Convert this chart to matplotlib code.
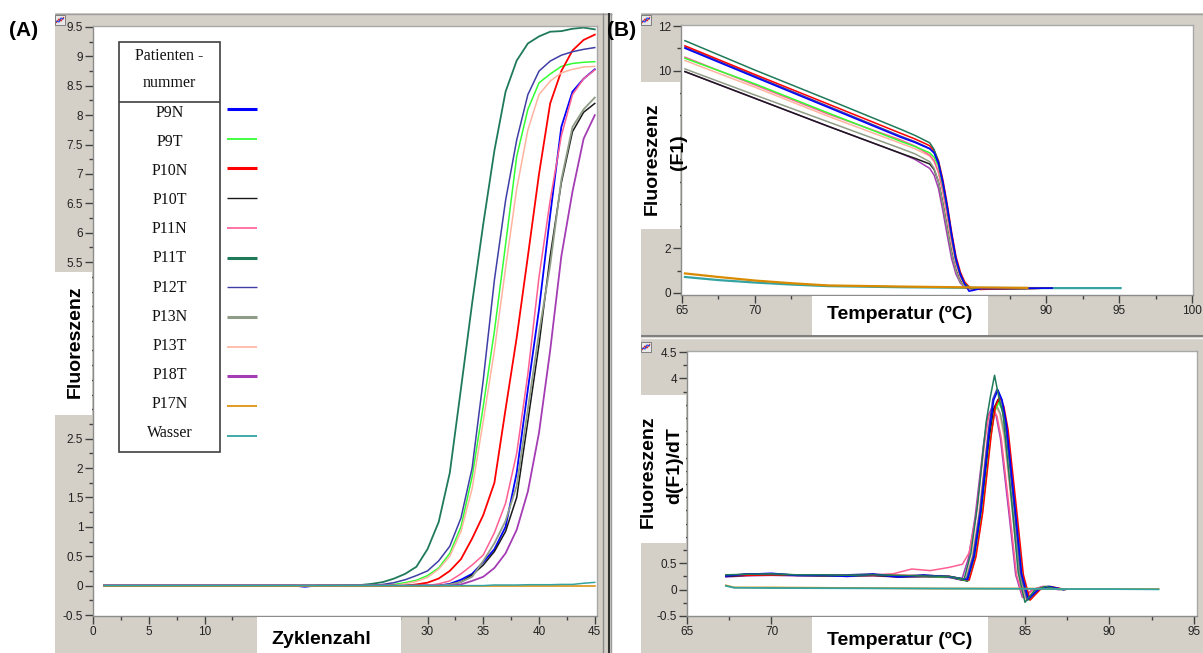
import matplotlib
matplotlib.use("Agg")
import matplotlib.pyplot as plt
from matplotlib.patches import Rectangle
from matplotlib.lines import Line2D
from matplotlib.ticker import MultipleLocator, FuncFormatter

plt.rcParams['axes.unicode_minus'] = False
plt.rcParams['font.family'] = ['Liberation Sans', 'DejaVu Sans']

# ---------------- data ----------------
samples = ['P9N', 'P9T', 'P10N', 'P10T', 'P11N', 'P11T', 'P12T', 'P13N', 'P13T', 'P18T', 'P17N', 'Wasser']
colors = ['#0000ff', '#33ff33', '#ff0000', '#1a1a1a', '#ff5f92', '#1f7a5a', '#3e3ea6',
          '#8f9c86', '#ffb4a0', '#a43cb4', '#d98a00', '#33a3a3']
legend_lw = [2.2, 1.3, 2.2, 1.0, 1.2, 2.2, 1.0, 2.2, 1.2, 2.2, 1.2, 1.3]

# (A) amplification curves: fluorescence per cycle
amp_cycles = [1, 18, 19, 20, 24, 25, 26, 27, 28, 29, 30, 31, 32, 33, 34, 35, 36, 37, 38, 39, 40, 41, 42, 43, 44, 45]
amp_P9N = [0, 0, -0.02, 0, 0, 0, 0, 0, 0, 0, 0, 0, 0.03, 0.10, 0.20, 0.40, 0.62, 1.00, 1.92, 3.34, 4.70, 6.30, 7.80, 8.40, 8.62, 8.78]
amp_P9T = [0, 0, 0, 0, 0, 0, 0, 0.02, 0.05, 0.09, 0.17, 0.30, 0.55, 1.00, 1.85, 3.05, 4.33, 5.80, 7.30, 8.10, 8.55, 8.70, 8.83, 8.88, 8.90, 8.91]
amp_P10N = [0, 0, 0, 0, 0, 0, 0, 0, 0, 0.02, 0.05, 0.12, 0.25, 0.45, 0.80, 1.20, 1.75, 3.00, 4.22, 5.60, 7.00, 8.20, 8.75, 9.10, 9.28, 9.37]
amp_P10T = [0, 0, 0, 0, 0, 0, 0, 0, 0, 0, 0, 0, 0.02, 0.06, 0.18, 0.35, 0.58, 0.92, 1.50, 2.80, 4.10, 5.60, 6.85, 7.72, 8.05, 8.20]
amp_P11N = [0, 0, 0, 0, 0, 0, 0, 0, 0, 0, 0, 0.03, 0.08, 0.20, 0.35, 0.52, 0.90, 1.40, 2.25, 3.60, 5.25, 6.55, 7.65, 8.35, 8.62, 8.77]
amp_P11T = [0, 0, 0, 0, 0.01, 0.03, 0.06, 0.12, 0.20, 0.32, 0.62, 1.08, 1.92, 3.35, 4.80, 6.15, 7.40, 8.40, 8.93, 9.22, 9.34, 9.42, 9.43, 9.47, 9.49, 9.46]
amp_P12T = [0, 0, 0, 0, 0, 0, 0.02, 0.05, 0.10, 0.17, 0.25, 0.42, 0.67, 1.15, 2.00, 3.50, 5.20, 6.55, 7.58, 8.35, 8.75, 8.92, 9.02, 9.08, 9.12, 9.15]
amp_P13N = [0, 0, 0, 0, 0, 0, 0, 0, 0, 0, 0, 0, 0.02, 0.06, 0.15, 0.42, 0.72, 1.10, 1.70, 3.00, 4.30, 5.45, 6.90, 7.80, 8.10, 8.30]
amp_P13T = [0, 0, 0, 0, 0, 0, 0, 0, 0.03, 0.07, 0.14, 0.28, 0.50, 0.92, 1.65, 2.80, 4.00, 5.40, 6.75, 7.75, 8.35, 8.58, 8.72, 8.78, 8.82, 8.83]
amp_P18T = [0, 0, 0, 0, 0, 0, 0, 0, 0, 0, 0, 0, 0, 0.02, 0.08, 0.15, 0.30, 0.55, 0.95, 1.60, 2.60, 4.00, 5.60, 6.70, 7.60, 8.00]
amp_P17N = [0, 0, 0, 0, 0, 0, 0, 0, 0, 0, 0, 0, 0, 0, 0, 0, 0, 0, 0, 0, 0, 0, 0, 0, 0, 0]
amp_Wasser = [0, 0, 0, 0, 0, 0, 0, 0, 0, 0, 0, 0, 0, 0, 0, 0, 0.01, 0.01, 0.01, 0.015, 0.015, 0.015, 0.02, 0.02, 0.04, 0.055]

# (B, top) melting curves: fluorescence F1 per temperature
melt_T = [65.2, 70, 75, 80, 81, 82, 82.3, 82.6, 82.9, 83.2, 83.5, 83.8, 84.1, 84.4, 84.7, 85.0, 85.5, 88.0, 90.4]
melt_P9N = [11.00, 9.70, 8.35, 7.00, 6.76, 6.48, 6.30, 5.85, 5.00, 3.90, 2.65, 1.55, 0.85, 0.40, 0.08, 0.12, 0.20, 0.21, 0.22]
melt_P9T = [10.55, 9.40, 8.10, 6.82, 6.58, 6.30, 6.10, 5.70, 4.85, 3.80, 2.60, 1.50, 0.85, 0.42, 0.25, 0.20, 0.20, 0.20, 0.22]
melt_P10N = [11.11, 9.82, 8.50, 7.18, 6.92, 6.62, 6.40, 5.95, 5.10, 4.00, 2.75, 1.65, 0.95, 0.50, 0.28, 0.18, 0.16, 0.20, 0.22]
melt_P10T = [9.95, 8.75, 7.50, 6.28, 6.05, 5.80, 5.55, 5.00, 4.05, 2.95, 1.85, 1.05, 0.55, 0.30, 0.20, 0.20, 0.20, 0.20, 0.22]
melt_P11N = [10.60, 9.35, 8.05, 6.88, 6.60, 6.20, 5.95, 5.45, 4.60, 3.50, 2.35, 1.35, 0.75, 0.38, 0.22, 0.20, 0.20, 0.20, 0.22]
melt_P11T = [11.34, 10.02, 8.70, 7.36, 7.08, 6.75, 6.45, 5.90, 4.95, 3.85, 2.60, 1.50, 0.85, 0.42, 0.25, 0.20, 0.20, 0.20, 0.22]
melt_P12T = [11.05, 9.75, 8.40, 7.05, 6.80, 6.50, 6.30, 5.80, 4.90, 3.80, 2.55, 1.45, 0.80, 0.40, 0.22, 0.18, 0.18, 0.20, 0.22]
melt_P13N = [10.07, 8.90, 7.70, 6.50, 6.25, 5.90, 5.60, 5.00, 4.00, 2.90, 1.80, 1.00, 0.50, 0.28, 0.20, 0.20, 0.20, 0.20, 0.22]
melt_P13T = [10.45, 9.25, 7.95, 6.73, 6.48, 6.15, 5.90, 5.40, 4.50, 3.40, 2.25, 1.30, 0.70, 0.35, 0.22, 0.20, 0.20, 0.20, 0.22]
melt_P18T = [9.95, 8.75, 7.50, 6.28, 6.00, 5.60, 5.30, 4.70, 3.70, 2.60, 1.55, 0.85, 0.45, 0.25, 0.20, 0.20, 0.20, 0.20, 0.22]
melt_T_P17N = [65.2, 67.5, 70, 72.5, 75, 80, 85, 88.7]
melt_P17N = [0.88, 0.72, 0.56, 0.44, 0.34, 0.29, 0.25, 0.23]
melt_T_Wasser = [65.2, 67.5, 70, 72.5, 75, 80, 85, 90, 95.1]
melt_Wasser = [0.72, 0.58, 0.47, 0.38, 0.31, 0.26, 0.23, 0.22, 0.22]

# (B, bottom) derivative curves -d(F1)/dT per temperature
deriv_base_T = [67.3, 68.5, 70, 71.5, 73, 74.5, 76, 77.5, 79, 80.5]
deriv_T_P9N = [81.6, 82.0, 82.4, 82.9, 83.15, 83.4, 83.65, 83.9, 84.4, 84.8, 85.2, 85.8, 86.4, 87.3]
deriv_P9N = [0.26, 0.29, 0.31, 0.27, 0.27, 0.25, 0.29, 0.24, 0.27, 0.25,
             0.19, 0.64, 1.51, 3.02, 3.59, 3.78, 3.59, 3.14, 1.59, 0.30, -0.18, 0.00, 0.06, 0.00]
deriv_T_P9T = [81.65, 82.05, 82.45, 82.95, 83.2, 83.45, 83.7, 83.95, 84.45, 84.85, 85.25, 85.85, 86.45, 87.35]
deriv_P9T = [0.28, 0.28, 0.29, 0.28, 0.27, 0.26, 0.28, 0.26, 0.25, 0.24,
             0.17, 0.60, 1.42, 2.84, 3.37, 3.55, 3.37, 2.95, 1.49, 0.28, -0.20, 0.00, 0.06, 0.00]
deriv_T_P10N = [81.7, 82.1, 82.5, 83.0, 83.25, 83.5, 83.75, 84.0, 84.5, 84.9, 85.3, 85.9, 86.5, 87.4]
deriv_P10N = [0.27, 0.27, 0.28, 0.28, 0.27, 0.27, 0.27, 0.27, 0.26, 0.25,
              0.18, 0.62, 1.46, 2.92, 3.47, 3.65, 3.47, 3.03, 1.53, 0.29, -0.20, 0.00, 0.06, 0.00]
deriv_T_P10T = [81.6, 82.0, 82.4, 82.9, 83.15, 83.4, 83.65, 83.9, 84.4, 84.8, 85.2, 85.8, 86.4, 87.3]
deriv_P10T = [0.25, 0.27, 0.28, 0.27, 0.26, 0.26, 0.27, 0.24, 0.25, 0.24,
              0.16, 0.61, 1.44, 2.88, 3.42, 3.60, 3.42, 2.99, 1.51, 0.29, -0.18, 0.00, 0.05, 0.00]
deriv_base_T_P11N = [67.3, 68.5, 70, 71.5, 73, 74.5, 76, 77.2, 78.3, 79.4, 80.5]
deriv_T_P11N = [81.3, 81.7, 82.1, 82.6, 82.85, 83.1, 83.35, 83.6, 84.1, 84.5, 84.9, 85.5, 86.1, 87.0]
deriv_P11N = [0.27, 0.28, 0.29, 0.28, 0.27, 0.27, 0.28, 0.30, 0.39, 0.36, 0.42,
              0.48, 0.70, 1.38, 2.76, 3.28, 3.45, 3.28, 2.86, 1.45, 0.28, -0.15, 0.00, 0.06, 0.00]
deriv_T_P11T = [81.4, 81.8, 82.2, 82.7, 82.95, 83.2, 83.45, 83.7, 84.2, 84.6, 85.0, 85.6, 86.2, 87.1]
deriv_P11T = [0.28, 0.29, 0.30, 0.28, 0.28, 0.27, 0.28, 0.27, 0.26, 0.25,
              0.20, 0.69, 1.62, 3.17, 3.65, 4.06, 3.65, 3.33, 1.71, 0.32, -0.24, 0.00, 0.06, 0.00]
deriv_T_P12T = [81.55, 81.95, 82.35, 82.85, 83.1, 83.35, 83.6, 83.85, 84.35, 84.75, 85.15, 85.75, 86.35, 87.25]
deriv_P12T = [0.26, 0.30, 0.30, 0.27, 0.27, 0.28, 0.30, 0.25, 0.28, 0.24,
              0.19, 0.65, 1.52, 3.04, 3.61, 3.80, 3.61, 3.15, 1.60, 0.30, -0.20, 0.00, 0.06, 0.00]
deriv_T_P13N = [81.5, 81.9, 82.3, 82.8, 83.05, 83.3, 83.55, 83.8, 84.3, 84.7, 85.1, 85.7, 86.3, 87.2]
deriv_P13N = [0.27, 0.28, 0.28, 0.28, 0.27, 0.26, 0.27, 0.26, 0.26, 0.25,
              0.18, 0.60, 1.40, 2.80, 3.33, 3.50, 3.33, 2.91, 1.47, 0.28, -0.18, 0.00, 0.06, 0.00]
deriv_T_P13T = [81.45, 81.85, 82.25, 82.75, 83.0, 83.25, 83.5, 83.75, 84.25, 84.65, 85.05, 85.65, 86.25, 87.15]
deriv_P13T = [0.28, 0.27, 0.28, 0.28, 0.27, 0.27, 0.27, 0.27, 0.27, 0.26,
              0.19, 0.60, 1.40, 2.80, 3.33, 3.50, 3.33, 2.91, 1.47, 0.28, -0.18, 0.00, 0.06, 0.00]
deriv_T_P18T = [81.25, 81.65, 82.05, 82.55, 82.8, 83.05, 83.3, 83.55, 84.05, 84.45, 84.85, 85.45, 86.05, 86.95]
deriv_P18T = [0.24, 0.26, 0.27, 0.26, 0.26, 0.25, 0.26, 0.24, 0.24, 0.23,
              0.18, 0.59, 1.38, 2.76, 3.28, 3.45, 3.28, 2.86, 1.45, 0.28, -0.15, 0.00, 0.06, 0.00]
deriv_T_neg = [67.3, 67.8, 70, 75, 80, 85, 87.5, 90, 92.9]
deriv_P17N = [0.08, 0.04, 0.04, 0.03, 0.02, 0.02, 0.01, 0.01, 0.01]
deriv_Wasser = [0.07, 0.035, 0.03, 0.025, 0.02, 0.015, 0.01, 0.01, 0.005]

# ---------------- assemble ----------------
amp = dict(zip(samples, [amp_P9N, amp_P9T, amp_P10N, amp_P10T, amp_P11N, amp_P11T, amp_P12T,
                         amp_P13N, amp_P13T, amp_P18T, amp_P17N, amp_Wasser]))
melt = {'P9N': (melt_T, melt_P9N), 'P9T': (melt_T, melt_P9T), 'P10N': (melt_T, melt_P10N),
        'P10T': (melt_T, melt_P10T), 'P11N': (melt_T, melt_P11N), 'P11T': (melt_T, melt_P11T),
        'P12T': (melt_T, melt_P12T), 'P13N': (melt_T, melt_P13N), 'P13T': (melt_T, melt_P13T),
        'P18T': (melt_T, melt_P18T), 'P17N': (melt_T_P17N, melt_P17N),
        'Wasser': (melt_T_Wasser, melt_Wasser)}
deriv = {'P9N': (deriv_base_T + deriv_T_P9N, deriv_P9N),
         'P9T': (deriv_base_T + deriv_T_P9T, deriv_P9T),
         'P10N': (deriv_base_T + deriv_T_P10N, deriv_P10N),
         'P10T': (deriv_base_T + deriv_T_P10T, deriv_P10T),
         'P11N': (deriv_base_T_P11N + deriv_T_P11N, deriv_P11N),
         'P11T': (deriv_base_T + deriv_T_P11T, deriv_P11T),
         'P12T': (deriv_base_T + deriv_T_P12T, deriv_P12T),
         'P13N': (deriv_base_T + deriv_T_P13N, deriv_P13N),
         'P13T': (deriv_base_T + deriv_T_P13T, deriv_P13T),
         'P18T': (deriv_base_T + deriv_T_P18T, deriv_P18T),
         'P17N': (deriv_T_neg, deriv_P17N),
         'Wasser': (deriv_T_neg, deriv_Wasser)}
col = dict(zip(samples, colors))

W, H = 1203, 653
GRAY = '#d4d0c8'
fig = plt.figure(figsize=(W / 100, H / 100), dpi=100)
fig.patch.set_facecolor('white')


def rect(x0, y0, x1, y1, fc, z, ec='none', lw=0):
    fig.add_artist(Rectangle((x0 / W, 1 - y1 / H), (x1 - x0) / W, (y1 - y0) / H,
                             transform=fig.transFigure, facecolor=fc, edgecolor=ec,
                             linewidth=lw, zorder=z))


def fline(xs, ys, color, lw, z):
    fig.add_artist(Line2D([x / W for x in xs], [1 - y / H for y in ys],
                          transform=fig.transFigure, color=color, lw=lw, zorder=z,
                          solid_capstyle='butt'))


def ftext(x, y, s, z=6, **kw):
    fig.text(x / W, 1 - y / H, s, zorder=z, **kw)


def fmt_hiding(hidden):
    # labels that sit under the white axis-title boxes are not shown in the reference
    def f(v, p):
        if any(abs(v - h) < 1e-6 for h in hidden):
            return ''
        return f"{v:g}"
    return FuncFormatter(f)


def add_ax(x0, y0, x1, y1, hide_x=(), hide_y=()):
    ax = fig.add_axes([x0 / W, 1 - y1 / H, (x1 - x0) / W, (y1 - y0) / H])
    ax.set_facecolor('white')
    for s in ['left', 'bottom']:
        ax.spines[s].set_color('#8c8c8c')
        ax.spines[s].set_linewidth(1.0)
    for s in ['top', 'right']:
        ax.spines[s].set_color('#a8a8a8')
        ax.spines[s].set_linewidth(1.0)
    ax.tick_params(which='major', direction='out', length=6, width=1, color='#404040',
                   labelsize=8.5, labelcolor='#222222', pad=1)
    ax.tick_params(which='minor', direction='out', length=3, width=1, color='#404040')
    ax.xaxis.set_major_formatter(fmt_hiding(hide_x))
    ax.yaxis.set_major_formatter(fmt_hiding(hide_y))
    return ax


# gray window frames
rect(55, 13, 612, 653, GRAY, -2)
rect(641, 13, 1203, 653, GRAY, -2)
fline([55, 612], [13.5, 13.5], '#a0a0a0', 1, -1)
fline([641, 1203], [13.5, 13.5], '#a0a0a0', 1, -1)
fline([603, 603], [13, 653], '#8a8a8a', 1, -1)
fline([608.5, 608.5], [13, 653], '#303030', 1.5, -1)
fline([611, 611], [13, 653], '#9a9a9a', 1, -1)
fline([641, 1203], [335.5, 335.5], '#808080', 1.5, -1)
fline([641, 1203], [337.8, 337.8], '#f4f4f4', 1, -1)

# ---------------- panel A ----------------
axA = add_ax(93, 26, 597, 616, hide_x=(15, 20, 25), hide_y=(3, 3.5, 4, 4.5, 5))
for s in samples:
    lw = 1.3 if s in ('P9N', 'P10N', 'P11T', 'P13N', 'P18T') else 1.1
    axA.plot(amp_cycles, amp[s], color=col[s], lw=lw)
axA.set_xlim(0, 45.2)
axA.set_ylim(-0.517, 9.517)
axA.xaxis.set_major_locator(MultipleLocator(5))
axA.xaxis.set_minor_locator(MultipleLocator(2.5))
axA.yaxis.set_major_locator(MultipleLocator(0.5))
axA.yaxis.set_minor_locator(MultipleLocator(0.25))

# ---------------- panel B top ----------------
axB1 = add_ax(681, 25, 1193, 295, hide_x=(75, 80, 85), hide_y=(4, 6, 8))
order_b1 = ['Wasser', 'P18T', 'P10T', 'P13N', 'P13T', 'P11N', 'P9T', 'P12T', 'P10N', 'P11T', 'P9N', 'P17N']
for s in order_b1:
    T, F = melt[s]
    lw = 1.6 if s in ('Wasser', 'P17N') else 1.1
    axB1.plot(T, F, color=col[s], lw=lw)
axB1.set_xlim(64.93, 100.07)
axB1.set_ylim(-0.09, 12.045)
axB1.xaxis.set_major_locator(MultipleLocator(5))
axB1.xaxis.set_minor_locator(MultipleLocator(2.5))
axB1.yaxis.set_major_locator(MultipleLocator(2))
axB1.yaxis.set_minor_locator(MultipleLocator(1))

# ---------------- panel B bottom ----------------
axB2 = add_ax(687, 351, 1197, 616, hide_x=(75, 80), hide_y=(1, 1.5, 2, 2.5, 3, 3.5))
order_b2 = ['P18T', 'P11N', 'P13T', 'P13N', 'P10T', 'P9T', 'P10N', 'P12T', 'P9N', 'P11T', 'P17N', 'Wasser']
for s in order_b2:
    T, D = deriv[s]
    lw = 1.3 if s in ('Wasser', 'P17N') else 1.1
    axB2.plot(T, D, color=col[s], lw=lw)
axB2.set_xlim(65, 95.18)
axB2.set_ylim(-0.5, 4.52)
axB2.xaxis.set_major_locator(MultipleLocator(5))
axB2.xaxis.set_minor_locator(MultipleLocator(2.5))
axB2.yaxis.set_major_locator(MultipleLocator(0.5))
axB2.yaxis.set_minor_locator(MultipleLocator(0.25))

# ---------------- white label cut-outs ----------------
rect(55, 272, 92, 415, 'white', 3)
rect(257, 617, 401, 653, 'white', 3)
rect(641, 82, 680, 229, 'white', 3)
rect(812, 296, 988, 335, 'white', 3)
rect(641, 395, 686, 543, 'white', 3)
rect(812, 617, 988, 653, 'white', 3)

bold = dict(fontsize=14, fontweight='bold', color='black', ha='center', va='center')
ftext(75, 342, 'Fluoreszenz', rotation=90, **bold)
ftext(321, 640, 'Zyklenzahl', **bold)
ftext(652, 159, 'Fluoreszenz', rotation=90, **bold)
ftext(678, 152, '(F1)', rotation=90, **bold)
ftext(900, 314, 'Temperatur (ºC)', **bold)
ftext(648, 472, 'Fluoreszenz', rotation=90, **bold)
ftext(675, 466, 'd(F1)/dT', rotation=90, **bold)
ftext(900, 640, 'Temperatur (ºC)', **bold)
ftext(24, 30, '(A)', fontsize=15, fontweight='bold', ha='center', va='center')
ftext(622, 31, '(B)', fontsize=15, fontweight='bold', ha='center', va='center')

# small chart icons
for (ix, iy) in [(55, 15), (641, 15), (641, 342)]:
    rect(ix, iy, ix + 10, iy + 10, '#e8e8e8', 4, ec='#707070', lw=0.6)
    fline([ix + 1, ix + 4, ix + 6, ix + 9], [iy + 8, iy + 4, iy + 6, iy + 2], '#e02020', 0.8, 5)
    fline([ix + 1, ix + 4, ix + 6, ix + 9], [iy + 6, iy + 7, iy + 3, iy + 4], '#2040e0', 0.8, 5)

# ---------------- legend table in panel A ----------------
rect(119, 42, 220, 452, 'white', 4, ec='#404040', lw=1.2)
fline([119, 220], [102, 102], '#404040', 1.2, 5)
serif = dict(family=['Liberation Serif', 'DejaVu Serif'], fontsize=11.5, color='#111111',
             ha='center', va='center')
ftext(169.5, 56, 'Patienten -', **serif)
ftext(169.5, 83, 'nummer', **serif)
for i, s in enumerate(samples):
    ftext(169.5, 113 + 29.1 * i, s, **serif)
    yl = 109 + 29.7 * i
    fline([227, 257], [yl, yl], col[s], legend_lw[i], 5)

fig.savefig('out.png', dpi=100, facecolor='white')
